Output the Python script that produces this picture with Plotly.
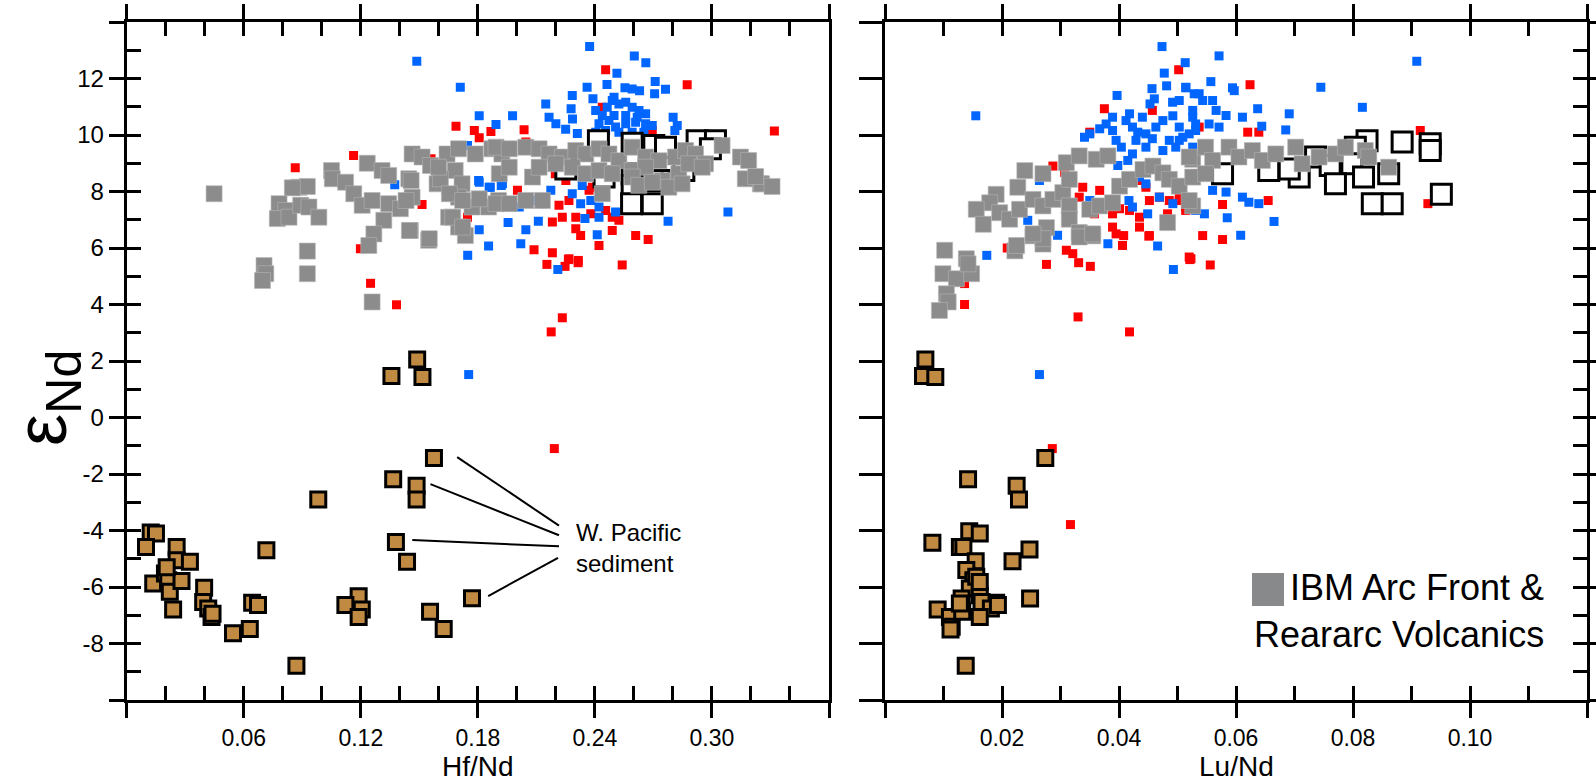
import plotly.graph_objects as go

# ---------------- DATA ----------------
# Left panel (Hf/Nd vs eNd)
red_hf = [.2455,.2873,.3320,.1688,.1782,.1807,.1867,.2037,.2046,.2694,.2438,.1560,.1514,.2003,.2197,.2251,.2370,.2387,.2216,.2267,.2233,.2302,.2182,.2379,.2455,.2489,.2523,.2489,.2302,.2327,.2421,.2609,.2673,.2088,.2182,.2267,.2315,.1747,.2154,.2264,.2247,.2314,.2540,.2233,.2176,.2192,.1383,.0864,.1163,.1198,.1250]
red_end_l = [12.31,11.78,10.14,10.31,10.16,9.90,10.12,10.19,9.75,10.16,10.98,9.16,7.54,8.04,8.63,8.39,8.04,8.15,7.51,7.68,7.09,7.09,6.92,7.21,7.33,7.09,6.98,6.62,6.68,6.44,6.09,6.44,6.30,5.94,5.83,5.62,5.56,7.09,5.42,5.59,5.35,5.48,5.40,3.53,3.03,-1.10,3.99,8.84,9.27,5.97,4.75]

blue_hf = [.2373,.1487,.2602,.2661,.2513,.1710,.2360,.2462,.2709,.2762,.2706,.2284,.2390,.2554,.2591,.2629,.2148,.2278,.2498,.1807,.1978,.1893,.2165,.2801,.2822,.2810,.2200,.2285,.2250,.2310,.1747,
           .2404,.2438,.2463,.2489,.2523,.2558,.2591,.2626,.2660,.2421,.2472,.2506,.2558,.2609,.2660,.2694,.2404,.2455,.2523,.2591,.2651,.2558,.2498,.2617,
           .1807,.1858,.1926,.2012,.2080,.2131,.2174,.2284,.2335,.2327,.2379,.2421,.2506,.1807,.1855,.2020,.2046,.1748,.2412,.2775,.3082,.2349,.2421,.1374,.1804,.1864,.1920,.1753,.2210,.1955,.2110]
blue_end_l = [13.13,12.61,12.80,12.56,12.19,11.69,11.69,11.79,11.89,11.62,11.46,11.40,11.28,11.67,11.63,11.57,11.10,10.93,11.34,10.68,10.68,10.37,10.63,10.63,10.34,10.16,10.40,10.57,10.20,10.05,9.63,
              10.87,10.69,10.98,11.22,11.10,11.16,10.98,10.87,10.75,10.40,10.51,10.28,10.40,10.45,10.40,10.34,10.10,10.16,10.10,10.10,10.10,10.69,10.69,10.63,
              8.33,8.15,8.27,7.45,7.68,7.57,8.04,7.92,8.21,7.57,7.68,7.45,7.27,6.65,6.07,6.15,6.65,5.74,6.47,6.95,7.27,7.04,7.09,8.24,8.39,8.15,8.21,1.52,5.24,6.90,6.95]

open_hf = [.2418,.2591,.2702,.2762,.2924,.3018,.2992,.2251,.2447,.2591,.2728,.2856,.2591,.2694,.2588,.2694]
open_end_l = [9.80,9.71,9.63,9.57,9.80,9.80,9.51,8.80,8.51,8.63,8.39,8.74,8.21,8.39,7.57,7.57]

gray_hf = [.0448,.0883,.0926,.0849,.0781,.0815,.0772,.0832,.0892,.0934,.0985,.0926,.0704,.0713,.0696,.0926,.1050,.1054,.1122,.1164,.1207,.1233,.1309,.1343,.1258,.1343,.1403,.1463,.1446,.1463,.1514,.1557,.1591,.1318,.1267,.1241,.1454,.1548,.1258,.1642,.1701,.1787,.1872,.1923,.1684,.1719,.1701,.1770,.1855,.1906,.1650,.1701,.1736,.1608,.1599,.1458,.1432,
           .1893,.1961,.2046,.2114,.2165,.2233,.2302,.2353,.2421,.2472,.2523,.2591,.2660,.2728,.2813,.2865,.2916,.2967,.3052,
           .1910,.1961,.2080,.2114,.2199,.2284,.2353,.2421,.2489,.2591,.2660,.2745,.2830,.2881,.2950,.3171,.3248,.3146,
           .1654,.1722,.1807,.1893,.1961,.2046,.2131,.1671,.1722,.1449,.1551,.2438,.2591,.2625,.2694,.2779,.2847,.3188,.3254,.3224,.3308]
gray_end_l = [7.92,8.15,8.18,8.13,7.57,7.33,7.04,7.09,7.51,7.45,7.09,5.89,5.38,5.09,4.85,5.09,8.74,8.45,8.33,7.92,7.51,9.00,8.74,8.57,7.68,7.57,7.39,7.80,8.45,9.33,9.22,8.92,8.27,6.98,6.50,6.09,6.62,6.27,4.09,9.33,9.51,9.33,9.51,9.33,8.74,8.27,7.80,7.45,7.45,7.68,7.09,6.74,6.44,8.45,8.86,8.39,7.68,
              9.57,9.51,9.57,9.51,9.33,9.22,9.45,9.33,9.51,9.33,9.09,9.57,9.22,9.09,9.22,9.45,9.33,8.98,9.63,
              8.63,8.86,8.51,8.86,8.98,8.86,8.63,8.74,8.63,8.74,8.86,8.39,8.63,8.98,8.86,8.45,8.27,9.22,
              7.92,7.68,7.74,7.57,7.57,7.68,7.68,7.09,6.74,6.62,6.33,7.92,8.51,8.22,8.33,8.15,8.27,9.10,8.27,8.53,8.18]

sed_hf = [.1489,.1357,.1516,.1575,.1366,.1486,.1486,.0982,.1380,.1437,.0716,.1770,.1555,.1625,.1189,.1121,.1205,.1189,.0123,.0150,.0099,.0256,.0256,.0324,.0136,.0196,.0213,.0221,.0238,.0281,.0397,.0392,.0418,.0435,.0643,.0673,.0631,.0545,.0870,.0205,.0440]
sed_end_l = [2.05,1.47,1.43,-1.43,-2.19,-2.42,-2.90,-2.90,-4.41,-5.11,-4.70,-6.40,-6.88,-7.49,-6.33,-6.64,-6.80,-7.06,-4.07,-4.11,-4.58,-4.58,-5.05,-5.11,-5.88,-5.52,-5.76,-6.17,-6.80,-5.79,-6.03,-6.53,-6.76,-7.06,-6.56,-6.64,-7.49,-7.64,-8.79,-5.30,-6.95]

# Right panel (Lu/Nd vs eNd)
red_lu = [.0502,.0375,.0457,.0350,.0287,.0435,.0446,.0452,.0469,.0486,.0503,.0514,.0389,.0401,.0418,.0435,.0389,.0395,.0435,.0452,.0406,.0483,.0520,.0310,.0321,.0307,.0531,.0338,.0367,.0332,.0358,.0624,.0620,.0639,.0577,.0655,.0543,.0577,.0523,.0514,.0503,.0915,.0928,.0537,.0276,.0331,.0351,.0408,.0451,.0521,.0556,.0136,.0136,.0330,.0418,.0286,.0317,.0209]
red_end_r = [12.31,10.93,10.87,10.10,8.90,8.39,8.15,7.68,7.80,7.68,7.80,7.45,7.21,7.39,7.33,7.09,6.74,6.50,6.74,6.44,6.09,7.21,5.68,5.92,5.80,8.68,8.63,8.15,8.04,7.80,7.21,11.78,10.10,10.10,7.54,7.68,6.44,6.30,5.62,7.33,7.68,10.16,7.57,10.28,5.42,5.48,5.35,6.44,6.42,5.59,5.40,4.00,4.74,3.56,3.03,-1.10,-3.79,6.00]

blue_lu = [.04735,.05132,.04774,.04564,.04814,.03967,.04604,.04530,.05144,.05286,.0503,.04916,.01552,
           .0378,.0389,.0412,.0423,.0440,.0446,.0463,.0475,.0492,.0503,.0520,.0531,.0341,.0350,.0404,.0423,.0446,.0475,.0497,.0526,
           .0389,.0418,.0432,.0457,.0486,.0509,.0526,.0367,.0395,.0429,
           .0398,.0415,.0435,.0446,.0469,.0492,.0449,.0531,.0423,.0417,.0264,.0276,.0244,.0213,.0295,.0381,.0466,.0174,.0350,
           .0571,.0557,.0597,.0594,.0637,.0611,.0691,.0644,.0685,.0745,.0816,.0909,.0537,.0543,.0560,.0514,.0526,.0566,.0583,.0571,.0554,.0531,.0503,
           .0560,.0583,.0611,.0622,.0639,.0665,.0585,.0608,.0546,.0493,.0264]
blue_end_r = [13.13,12.56,12.19,11.64,11.74,11.40,11.28,11.10,11.67,11.46,11.22,11.16,10.68,
              10.39,10.16,10.51,10.28,10.63,10.04,10.28,10.51,10.68,10.28,10.04,10.39,9.92,10.04,9.57,9.33,9.57,9.45,9.57,9.57,
              10.63,10.75,10.10,9.87,9.81,9.92,10.63,10.22,9.81,9.81,
              8.92,9.10,8.51,8.27,7.80,7.57,7.21,7.33,7.45,7.68,8.39,8.57,6.98,6.92,6.45,6.15,6.07,5.74,7.68,
              12.80,11.89,11.57,11.67,10.93,10.63,10.75,10.31,10.18,11.69,10.98,12.61,11.46,11.22,11.22,11.69,10.87,10.87,10.69,10.28,10.39,10.16,9.81,
              8.04,7.98,7.80,7.62,7.57,6.94,7.07,6.45,7.21,5.24,1.52]

open_lu = [.0824,.0804,.0884,.0932,.0932,.0798,.0736,.0761,.0770,.0818,.0861,.0833,.0867,.0951,.0708,.0656,.0577,.0691]
open_end_r = [9.80,9.57,9.75,9.69,9.45,8.98,9.22,8.92,8.27,8.51,8.63,7.57,7.57,7.90,8.51,8.74,8.63,8.80]

gray_lu = [.0239,.0270,.0227,.0190,.0179,.0156,.0168,.0196,.0213,.0230,.0253,.0270,.0287,.0304,.0315,.0310,.0332,.0361,.0381,.0315,.0315,.0332,.0355,.0276,.0253,.0270,.0222,.0102,.0139,.0350,.0367,.0389,.0401,.0418,.0441,.0458,.0475,.0486,.0503,.0526,.0526,.0483,
           .0520,.0548,.0560,.0588,.0605,.0628,.0645,.0668,.0702,.0713,.0742,.0770,.0787,.0821,.0827,.0861,.0526,.0548,.0520,
           .0099,.0122,.0148,.0142,.0105,.0108,.0093,.0225,.0270,.0253,.0332,.0355]
gray_end_r = [8.74,8.63,8.15,7.90,7.60,7.37,6.84,7.25,7.02,7.37,7.72,7.49,7.72,7.96,8.43,9.02,9.26,9.14,9.26,7.49,7.02,6.55,6.43,6.72,6.43,6.14,5.90,5.92,5.62,7.37,7.49,7.60,8.19,8.43,8.78,8.90,8.66,8.43,8.19,9.14,7.49,6.90,
              9.22,9.57,9.10,9.57,9.22,9.45,9.10,9.33,9.57,8.98,9.22,9.33,9.57,9.45,9.22,8.86,8.51,8.63,7.68,
              5.09,4.91,5.09,5.44,4.38,4.09,3.79,6.09,6.33,6.50,6.39,6.50]

sed_lu = [.0069,.0065,.0086,.0274,.0142,.0225,.0229,.0081,.0144,.0162,.0247,.0218,.0128,.0134,.0155,.0139,.0151,.0145,.0162,.0179,.0190,.0248,.0090,.0131,.0165,.0111,.0114,.0132,.0112,.0181,.0193,.0138,.0156,.0162,.0131,.0128,.0162]
sed_end_r = [2.05,1.47,1.43,-1.43,-2.19,-2.42,-2.90,-4.43,-4.03,-4.11,-4.67,-5.09,-4.58,-4.58,-5.09,-5.40,-5.76,-6.05,-6.29,-6.58,-6.56,-6.41,-6.80,-6.82,-6.53,-7.06,-7.41,-6.88,-7.50,-6.76,-6.64,-8.79,-5.64,-5.82,-6.41,-6.58,-7.06]

# Axis ticks
hf_major = [0, 0.06, 0.12, 0.18, 0.24, 0.30, 0.36]
hf_labels = [" ", "0.06", "0.12", "0.18", "0.24", "0.30", " "]
hf_minor = [round(i * 0.02, 2) for i in range(19)]
lu_major = [0, 0.02, 0.04, 0.06, 0.08, 0.10, 0.12]
lu_labels = [" ", "0.02", "0.04", "0.06", "0.08", "0.10", " "]
lu_minor = [round(i * 0.01, 2) for i in range(13)]
y_major = list(range(-10, 15, 2))
y_labels = [" " if v in (-10, 14) else str(v) for v in y_major]
y_minor = list(range(-10, 15))

# Leader lines for "W. Pacific sediment" label (data coords of left panel)
leader_x0 = [.1694, .1557, .1464, .1853]
leader_y0 = [-1.40, -2.36, -4.34, -6.32]
leader_x1 = [.2216, .2216, .2216, .2211]
leader_y1 = [-3.83, -4.17, -4.56, -4.97]

# ---------------- STYLE ----------------
W, H = 1596, 783
FONT = "Liberation Sans, Arial, sans-serif"
RED = "#FF0000"
BLUE = "#0066FF"
GRAY = "#8C8C8C"
BROWN = "#C08A42"

def px(v):
    return v / W

def py(v):
    return 1 - v / H

XL = [px(126.7), px(829)]
XR = [px(885), px(1587)]
YD = [py(700), py(22)]

fig = go.Figure()

def add_panel(xa, ya, rx, ry, bx, by, ox, oy, gx, gy, sx, sy):
    common = dict(mode="markers", xaxis=xa, yaxis=ya, showlegend=False, hoverinfo="x+y")
    fig.add_trace(go.Scatter(x=rx, y=ry, marker=dict(symbol="square", size=9, color=RED, line=dict(width=0)), **common))
    fig.add_trace(go.Scatter(x=bx, y=by, marker=dict(symbol="square", size=9, color=BLUE, line=dict(width=0)), **common))
    fig.add_trace(go.Scatter(x=ox, y=oy, marker=dict(symbol="square", size=20, color="white", line=dict(width=3, color="black")), **common))
    fig.add_trace(go.Scatter(x=gx, y=gy, marker=dict(symbol="square", size=16, color=GRAY, line=dict(width=0.6, color="#B5B5B5")), **common))
    fig.add_trace(go.Scatter(x=sx, y=sy, marker=dict(symbol="square", size=15, color=BROWN, line=dict(width=3, color="black")), **common))

add_panel("x", "y", red_hf, red_end_l, blue_hf, blue_end_l, open_hf, open_end_l, gray_hf, gray_end_l, sed_hf, sed_end_l)
add_panel("x2", "y2", red_lu, red_end_r, blue_lu, blue_end_r, open_lu, open_end_r, gray_lu, gray_end_r, sed_lu, sed_end_r)

# empty traces so that the minor-tick overlay axes are drawn
for xa, ya in [("x3", "y"), ("x", "y3"), ("x4", "y2"), ("x2", "y4")]:
    fig.add_trace(go.Scatter(x=[], y=[], xaxis=xa, yaxis=ya, showlegend=False, hoverinfo="skip"))

tickfont_x = dict(family=FONT, size=23, color="black")
tickfont_y = dict(family=FONT, size=24, color="black")
base = dict(showgrid=False, zeroline=False, showline=True, linecolor="black", linewidth=3,
            tickcolor="black", tickwidth=3, tickmode="array", automargin=False)

layout = dict(
    width=W, height=H, margin=dict(l=0, r=0, t=0, b=0, autoexpand=False),
    paper_bgcolor="white", plot_bgcolor="rgba(0,0,0,0)", showlegend=False,
    font=dict(family=FONT, color="black"),
    # left panel
    xaxis=dict(base, domain=XL, range=[0, 0.36], anchor="y", side="bottom", mirror="ticks",
               ticks="outside", ticklen=15, tickvals=hf_major, ticktext=hf_labels, tickfont=tickfont_x),
    xaxis3=dict(base, domain=XL, range=[0, 0.36], anchor="y", overlaying="x", side="bottom", mirror="ticks",
                ticks="inside", ticklen=14, tickvals=hf_minor, showticklabels=False),
    yaxis=dict(base, domain=YD, range=[-10, 14], anchor="x", side="left", mirror=True,
               ticks="outside", ticklen=15, tickvals=y_major, ticktext=y_labels, tickfont=tickfont_y),
    yaxis3=dict(base, domain=YD, range=[-10, 14], anchor="x", overlaying="y", side="left",
                ticks="inside", ticklen=14, tickvals=y_minor, showticklabels=False),
    # right panel
    xaxis2=dict(base, domain=XR, range=[0, 0.12], anchor="y2", side="bottom", mirror="ticks",
                ticks="outside", ticklen=15, tickvals=lu_major, ticktext=lu_labels, tickfont=tickfont_x),
    xaxis4=dict(base, domain=XR, range=[0, 0.12], anchor="y2", overlaying="x2", side="bottom", mirror="ticks",
                ticks="inside", ticklen=14, tickvals=lu_minor, showticklabels=False),
    yaxis2=dict(base, domain=YD, range=[-10, 14], anchor="x2", side="left", mirror="ticks",
                ticks="outside", ticklen=23, tickvals=y_major, showticklabels=False),
    yaxis4=dict(base, domain=YD, range=[-10, 14], anchor="x2", overlaying="y2", side="right",
                ticks="inside", ticklen=14, tickvals=y_minor, showticklabels=False),
)
fig.update_layout(**layout)

ann = []
# axis titles
ann.append(dict(text="Hf/Nd", x=px(477.9), y=py(766), xref="paper", yref="paper", showarrow=False,
                font=dict(family=FONT, size=28, color="black"), xanchor="center", yanchor="middle"))
ann.append(dict(text="Lu/Nd", x=px(1236), y=py(766), xref="paper", yref="paper", showarrow=False,
                font=dict(family=FONT, size=28, color="black"), xanchor="center", yanchor="middle"))
ann.append(dict(text="ε<sub>Nd</sub>", x=px(46), y=py(398), xref="paper", yref="paper", showarrow=False,
                textangle=-90, font=dict(family=FONT, size=72, color="black"), xanchor="center", yanchor="middle"))
# sediment label
ann.append(dict(text="W. Pacific<br>sediment", x=px(574), y=py(548), xref="paper", yref="paper", showarrow=False,
                align="left", xanchor="left", yanchor="middle", font=dict(family=FONT, size=24, color="black")))
# legend text
ann.append(dict(text="IBM Arc Front &<br>Reararc Volcanics", x=px(1546), y=py(611), xref="paper", yref="paper",
                showarrow=False, align="right", xanchor="right", yanchor="middle",
                font=dict(family=FONT, size=36, color="black")))
fig.update_layout(annotations=ann)

shapes = []
for a, b, c, d in zip(leader_x0, leader_y0, leader_x1, leader_y1):
    shapes.append(dict(type="line", xref="x", yref="y", x0=a, y0=b, x1=c, y1=d, line=dict(color="black", width=2)))
shapes.append(dict(type="rect", xref="paper", yref="paper", x0=px(1252), x1=px(1284), y0=py(606), y1=py(573),
                   fillcolor="#88898B", line=dict(width=0)))
fig.update_layout(shapes=shapes)

fig.write_html("out.html")
